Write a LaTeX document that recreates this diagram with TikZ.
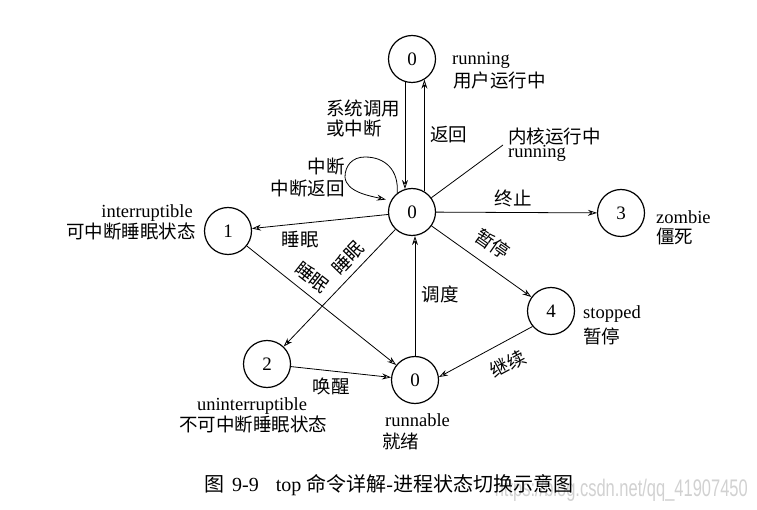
\documentclass[tikz,border=0pt]{standalone}
\usepackage{fontspec}
\usepackage{graphicx}
\setmainfont{Liberation Serif}
\newfontfamily\cjk{Noto Sans CJK SC}
\newfontfamily\wmfont{Liberation Sans}
\usetikzlibrary{arrows.meta,calc}
\newcommand{\zh}[1]{{\cjk #1}}
\begin{document}
\begin{tikzpicture}[x=1pt,y=-1pt,
  state/.style={circle,draw,line width=1.2pt,minimum size=47pt,inner sep=0pt,font=\fontsize{19}{19}\selectfont},
  lbl/.style={inner sep=0pt,font=\fontsize{18.5}{20}\selectfont},
  zhl/.style={inner sep=0pt,font=\fontsize{18.5}{20}\selectfont\cjk},
  arr/.style={line width=0.8pt,-{Stealth[open,length=9pt,width=6pt,inset=3pt]}},
  ln/.style={line width=0.8pt}]
\useasboundingbox (0,0) rectangle (757,510);
% watermark (behind)
\node[anchor=base east,inner sep=0pt,text=black!18] (wm) at (748,496)
  {\wmfont\fontsize{24}{24}\selectfont\scalebox{0.687}[1]{https://blog.csdn.net/qq\_41907450}};
% states
\node[state] (top) at (412,59) {0};
\node[state] (c) at (412,212) {0};
\node[state] (n1) at (228,231) {1};
\node[state] (n2) at (267,364) {2};
\node[state] (r) at (415,380) {0};
\node[state] (n4) at (551,311) {4};
\node[state] (n3) at (621,213) {3};
\coordinate (k) at (503,145);
% connectors
\draw[arr] (top.253) -- (c.107);
\draw[arr] (c.59) -- (top.301);
\draw[arr,shorten >=5pt] (c.128) .. controls (399,170) and (385,157) .. (365,157)
   .. controls (352,157) and (345,166) .. (345,177)
   .. controls (346,192) and (370,196) .. (c.152);
\draw[ln] (c) -- (k);
\draw[arr] (c) -- (n1);
\draw[arr] (c) -- (n2);
\draw[arr] (n1) -- (r);
\draw[arr] (c) -- (n3);
\draw[arr] (c) -- (n4);
\draw[arr] (n4.220) -- (r.7);
\draw[arr] (n2) -- (r);
\draw[arr] (r.north) -- (r.north |- c.south);
% labels
\node[lbl,anchor=base west] (t1) at (452,65) {running};
\node[zhl,anchor=base west] (t2) at (453,87.5) {用户运行中};
\node[zhl,anchor=base west] (t3) at (326,115.5) {系统调用};
\node[zhl,anchor=base west] (t4) at (326,135.5) {或中断};
\node[zhl,anchor=base west] (t5) at (430,141.5) {返回};
\node[zhl,anchor=base west] (t6) at (508,143.5) {内核运行中};
\node[lbl,anchor=base west] (t7) at (508,158) {running};
\node[zhl,anchor=base east] (t8) at (345,173.5) {中断};
\node[zhl,anchor=base east] (t9) at (345,195.5) {中断返回};
\node[lbl,anchor=base east] (t10) at (193,218) {interruptible};
\node[zhl,anchor=base east] (t11) at (196,238.5) {可中断睡眠状态};
\node[zhl] (t12) at (300,240) {睡眠};
\node[zhl,rotate=46] (t13) at (348,258) {睡眠};
\node[zhl,rotate=-38] (t14) at (312,277) {睡眠};
\node[zhl] (t15) at (513,198) {终止};
\node[lbl,anchor=base west] (t16) at (656,224) {zombie};
\node[zhl,anchor=base west] (t17) at (656,243.5) {僵死};
\node[zhl,rotate=-35] (t18) at (493,244) {暂停};
\node[zhl] (t19) at (440,294) {调度};
\node[lbl,anchor=base west] (t20) at (583,319) {stopped};
\node[zhl,anchor=base west] (t21) at (583,343.5) {暂停};
\node[zhl,rotate=28] (t22) at (508,364) {继续};
\node[zhl] (t23) at (331,386) {唤醒};
\node[lbl,anchor=base] (t24) at (252,410) {uninterruptible};
\node[zhl,anchor=base] (t25) at (253,431.5) {不可中断睡眠状态};
\node[lbl,anchor=base west] (t26) at (385,426) {runnable};
\node[zhl,anchor=base west] (t27) at (382,448.5) {就绪};
% caption
\node[anchor=base west,inner sep=0pt,font=\fontsize{20}{22}\selectfont] (cap) at (204,491)
  {\zh{图}\hspace{8pt}9-9\hspace{17pt}top\hspace{5pt}\zh{命令详解}-\zh{进程状态切换示意图}};
\end{tikzpicture}
\end{document}
